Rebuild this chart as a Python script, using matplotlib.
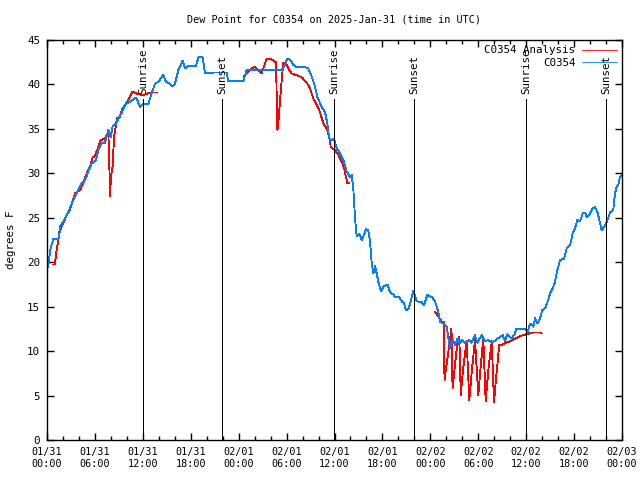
import numpy as np
import matplotlib
matplotlib.use("Agg")
import matplotlib.pyplot as plt

# hours since 2025-01-31 00:00 UTC
blue_h = [0.16, 0.29, 0.46, 0.79, 1.42, 1.54, 1.63, 2.25, 2.88, 3.3, 3.72, 4.34, 4.76, 5.17, 5.6,
          6.14, 6.42, 6.85, 7.26, 7.68, 7.97, 8.23, 8.64, 9.05, 9.35, 9.77, 10.06, 10.48, 11.02,
          11.23, 11.43, 11.65, 12.06, 12.68, 13.1, 13.52, 13.94, 14.24, 14.56, 14.9, 15.4, 15.74,
          16.03, 16.44, 16.99, 17.28, 17.69, 18.66, 18.95, 19.5, 19.78, 20.62, 20.82, 22.5, 22.7,
          24.58, 25.0, 29.39, 29.8, 30.09, 30.43, 30.84, 31.27, 32.18, 32.72, 33.15, 33.56, 33.85,
          34.18, 34.52, 34.81, 35.1, 35.35, 35.65, 35.94, 36.19, 36.69, 37.1, 37.53, 37.94, 38.15,
          38.35, 38.44, 38.57, 38.78, 39.11, 39.41, 39.61, 39.94, 40.23, 40.45, 40.66, 40.86, 41.07,
          41.28, 41.49, 41.82, 42.11, 42.66, 42.95, 43.36, 43.58, 44.11, 44.42, 44.7, 44.95, 45.24,
          45.54, 45.87, 46.29, 46.92, 47.21, 47.62, 48.17, 48.59, 49.0, 49.21, 49.62, 50.05, 50.46,
          50.8, 51.09, 51.38, 51.72, 51.93, 52.34, 52.88, 53.18, 53.59, 53.88, 54.43, 54.85, 55.26,
          55.69, 56.22, 56.72, 57.06, 57.35, 57.64, 58.19, 58.6, 58.73, 59.98, 60.14, 60.48, 60.9,
          61.11, 61.4, 61.73, 62.02, 62.36, 62.77, 62.99, 63.4, 63.61, 63.9, 64.24, 64.74, 65.08,
          65.49, 65.83, 66.12, 66.4, 66.74, 67.08, 67.37, 67.58, 67.9, 68.33, 68.62, 68.91, 69.16,
          69.46, 70.0, 70.5, 70.91, 71.12, 71.34, 71.54, 71.75, 71.96]
blue_v = [19.5, 20.6, 21.6, 22.6, 22.6, 22.95, 24.0, 24.9, 26.1, 27.0, 27.75, 28.9, 29.25, 30.2, 31.1,
          31.5, 32.6, 33.4, 33.45, 34.9, 34.1, 35.3, 35.6, 36.4, 36.8, 37.7, 37.9, 38.1, 38.45,
          38.45, 37.9, 37.5, 37.8, 37.8, 39.0, 40.1, 40.3, 40.7, 41.1, 40.3, 40.05, 39.8,
          40.1, 41.6, 42.7, 41.8, 42.1, 42.1, 43.05, 43.05, 41.25, 41.25, 41.35, 41.35, 40.4,
          40.4, 41.6, 41.6, 42.2, 42.9, 42.8, 42.2, 41.9, 42.0, 41.8, 40.9, 39.75, 38.6,
          37.9, 37.3, 36.9, 35.6, 33.9, 33.75, 33.9, 33.0, 32.25, 31.5, 30.2, 29.6, 29.8,
          28.3, 27.0, 24.9, 22.9, 23.2, 22.5, 22.9, 23.7, 23.6, 22.3, 19.9, 18.75, 19.6,
          18.75, 17.8, 16.7, 17.25, 17.5, 16.6, 16.4, 16.1, 16.05, 15.6, 15.4, 14.6, 14.7,
          15.6, 16.8, 15.6, 15.5, 15.2, 16.3, 16.1, 15.6, 14.4, 13.3, 13.1, 12.75, 10.3,
          11.25, 10.7, 11.4, 10.9, 11.25, 10.9, 11.25, 10.95, 11.8, 10.95, 11.8, 11.1, 11.25,
          10.95, 11.25, 11.6, 11.8, 11.1, 11.9, 11.4, 12.0, 12.45, 12.45, 12.0, 13.1, 12.75,
          13.7, 13.1, 13.7, 14.6, 14.8, 15.75, 16.5, 17.25, 17.8, 19.1, 20.25, 20.4, 21.6,
          21.9, 23.25, 23.8, 24.75, 24.6, 25.5, 25.6, 25.1, 25.3, 26.05, 26.2, 25.7, 24.75,
          23.6, 24.3, 25.6, 25.9, 27.75, 28.5, 28.7, 29.6, 29.8]

red_h = [0.71, 1.0, 1.13, 1.42, 1.54, 2.04, 2.47, 2.88, 3.51, 4.13, 4.55, 4.97, 5.38, 5.72, 6.01,
         6.42, 6.72, 7.26, 7.68, 7.8, 7.89, 8.01, 8.23, 8.39, 8.64, 8.73, 9.05, 9.35, 9.77, 10.18,
         10.73, 11.43, 12.06, 12.68, 13.31, 13.81, 19.0,
         24.67, 25.21, 25.92, 26.26, 26.88, 27.51, 27.92, 28.68, 28.84, 28.96, 29.18, 29.39, 29.59,
         29.89, 30.22, 30.64, 31.05, 31.68, 32.02, 32.59, 32.93, 33.35, 33.77, 34.18, 34.6, 35.02,
         35.35, 35.52, 36.06, 36.48, 36.9, 37.19, 37.44, 37.6, 37.85, 43.0,
         48.59, 49.0, 49.42, 49.71, 49.77, 49.96, 50.25, 50.65, 50.78, 51.09, 51.34, 51.63, 51.81,
         52.1, 52.55, 52.88, 53.22, 53.59, 54.0, 54.28, 54.63, 54.93, 55.28, 55.69, 55.97, 56.29,
         56.63, 56.93, 57.35, 57.98, 58.6, 59.23, 60.07, 60.9, 61.73, 61.94]
red_v = [19.75, 19.75, 21.0, 22.5, 23.4, 24.4, 25.3, 25.9, 27.75, 28.1, 28.9, 30.0, 30.75, 31.8, 31.95,
         33.0, 33.75, 33.9, 34.7, 31.1, 27.4, 29.6, 30.9, 34.1, 35.4, 36.2, 36.2, 37.1, 37.7, 38.25,
         39.2, 38.9, 38.8, 39.0, 39.1, 39.1, np.nan,
         40.9, 41.4, 42.0, 41.8, 41.25, 42.9, 42.9, 42.5, 34.9, 35.6, 38.25, 40.5, 42.4,
         42.5, 41.8, 41.25, 41.1, 40.9, 40.7, 40.1, 39.55, 38.4, 37.7, 36.9, 35.6, 35.05,
         34.1, 33.0, 32.6, 32.1, 31.3, 30.6, 29.6, 28.9, 28.9, np.nan,
         14.4, 13.9, 13.3, 13.3, 6.75, 8.0, 9.9, 12.55, 5.8, 8.5, 10.5, 11.6, 5.05,
         8.0, 11.1, 4.5, 8.0, 11.3, 5.05, 8.0, 11.4, 4.4, 8.0, 11.1, 4.3, 7.5,
         10.7, 10.7, 10.9, 11.1, 11.4, 11.7, 11.9, 12.1, 12.1, 12.0]

event_h = [12.0, 21.9, 35.95, 45.95, 59.98, 70.0]
event_lbl = ["Sunrise", "Sunset", "Sunrise", "Sunset", "Sunrise", "Sunset"]

xtick_h = list(range(0, 73, 6))
xtick_lbl = ["01/31\n00:00", "01/31\n06:00", "01/31\n12:00", "01/31\n18:00",
             "02/01\n00:00", "02/01\n06:00", "02/01\n12:00", "02/01\n18:00",
             "02/02\n00:00", "02/02\n06:00", "02/02\n12:00", "02/02\n18:00",
             "02/03\n00:00"]
ytick_v = list(range(0, 46, 5))

FONT = "DejaVu Sans Mono"
FS = 7.3
LW = 0.6
plt.rcParams['font.family'] = [FONT]

fig = plt.figure(figsize=(6.4, 4.8), dpi=100)
ax = fig.add_axes([47/640, 40/480, 575/640, 400/480])

ax.plot(red_h, red_v, color="#ff0000", lw=LW, label="C0354 Analysis", antialiased=False)
ax.plot(blue_h, blue_v, color="#0080ff", lw=LW, label="C0354", antialiased=False)

for h, lbl in zip(event_h, event_lbl):
    ax.plot([h, h], [0, 38.4], color="black", lw=LW, antialiased=False)
    ax.text(h, 38.9, lbl, rotation=90, ha="center", va="bottom", fontsize=FS + 0.5)

ax.set_xlim(0, 72)
ax.set_ylim(0, 45)
ax.set_xticks(xtick_h)
ax.set_xticklabels(xtick_lbl, fontsize=FS)
ax.set_xticks(list(range(0, 73, 2)), minor=True)
ax.set_yticks(ytick_v)
ax.set_yticklabels([str(v) for v in ytick_v], fontsize=FS + 0.5)
ax.tick_params(axis="both", which="major", direction="in", length=5, width=1,
               top=True, right=True, pad=5)
ax.tick_params(axis="x", which="minor", direction="in", length=3, width=1,
               top=True, bottom=True)
for s in ax.spines.values():
    s.set_linewidth(1.0)

ax.set_ylabel("degrees F", fontsize=FS + 0.5, labelpad=8)
fig.text(334/640, 1 - 20/480, "Dew Point for C0354 on 2025-Jan-31 (time in UTC)",
         ha="center", va="center", fontsize=FS)

leg = ax.legend(loc="upper right", markerfirst=False, frameon=False, fontsize=FS + 0.5,
                handlelength=3.2, handletextpad=0.6, borderaxespad=0.1, labelspacing=0.2)

fig.savefig("out.png", dpi=100)
